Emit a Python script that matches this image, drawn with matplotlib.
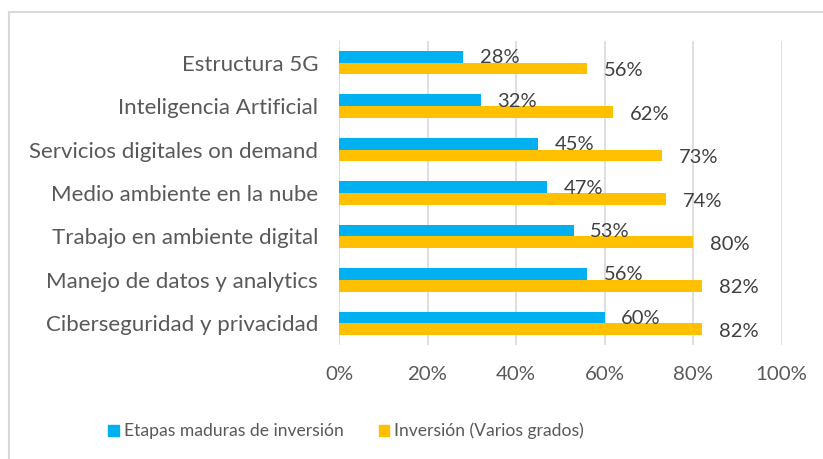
import numpy as np
import matplotlib
matplotlib.use("Agg")
import matplotlib.pyplot as plt
from matplotlib.lines import Line2D
from matplotlib.patches import Patch

categorias = ["Estructura 5G", "Inteligencia Artificial", "Servicios digitales on demand",
              "Medio ambiente en la nube", "Trabajo en ambiente digital",
              "Manejo de datos y analytics", "Ciberseguridad y privacidad"]
etapas_maduras = [28, 32, 45, 47, 53, 56, 60]
inversion = [56, 62, 73, 74, 80, 82, 82]
ticks_x = [0, 20, 40, 60, 80, 100]
series = ["Etapas maduras de inversión", "Inversión (Varios grados)"]

azul = "#00B0F0"
amarillo = "#FFC000"
gris = "#595959"

plt.rcParams['font.family'] = ['Lato', 'DejaVu Sans']

fig = plt.figure(figsize=(8.23, 4.59), dpi=100)
ax = fig.add_axes([339/823, 1-345/459, (781.5-339)/823, (345-41)/459])

y = np.arange(len(categorias))
h = 0.27
ax.barh(y - h/2, etapas_maduras, height=h, color=azul, zorder=3)
ax.barh(y + h/2, inversion, height=h, color=amarillo, zorder=3)

for i in range(len(categorias)):
    ax.annotate(f"{etapas_maduras[i]}%", (etapas_maduras[i], y[i] - h/2 + 0.02), xytext=(12, 0),
                textcoords="offset points", va="center", ha="left", fontsize=14.5, color="#404040")
    ax.annotate(f"{inversion[i]}%", (inversion[i], y[i] + h/2 + 0.05), xytext=(12, 0),
                textcoords="offset points", va="center", ha="left", fontsize=14.5, color="#404040")

ax.set_xlim(0, 100)
ax.set_ylim(len(categorias) - 0.5, -0.5)
ax.set_xticks(ticks_x)
ax.set_xticklabels([f"{t}%" for t in ticks_x])
ax.set_yticks(y)
ax.set_yticklabels(categorias)
ax.tick_params(axis='both', length=0, colors=gris)
ax.tick_params(axis='x', pad=15, labelsize=14.7)
ax.tick_params(axis='y', pad=15, labelsize=16)
ax.grid(axis='x', color="#D9D9D9", linewidth=1.2, zorder=0)
for s in ax.spines.values():
    s.set_visible(False)

handles = [Patch(color=azul), Patch(color=amarillo)]
fig.legend(handles, series, loc="center", bbox_to_anchor=(346/823, 1-431/459), ncol=2,
           frameon=False, fontsize=12.6, labelcolor=gris, handlelength=0.6, handleheight=0.6,
           handletextpad=0.3, columnspacing=2.0)

# borde del gráfico
fig.add_artist(Line2D([9/823, 1], [1-12/459, 1-12/459], color="#D9D9D9", linewidth=1.5))
fig.add_artist(Line2D([9/823, 9/823], [0, 1-12/459], color="#D9D9D9", linewidth=1.5))

fig.savefig("out.png", dpi=100)
